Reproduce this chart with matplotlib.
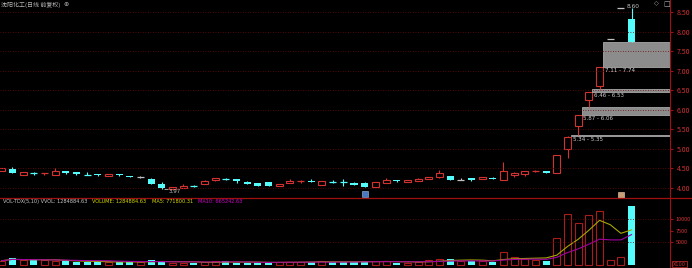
import numpy as np
import pandas as pd
import matplotlib
matplotlib.use('Agg')
import matplotlib.pyplot as plt
from matplotlib.lines import Line2D

plt.rcParams['font.family'] = ['Noto Sans CJK SC', 'DejaVu Sans']

# dados diarios (60 pregoes)
opens = [4.44, 4.48, 4.34, 4.37, 4.38, 4.34, 4.43, 4.40, 4.34, 4.35,
         4.31, 4.35, 4.30, 4.28, 4.23, 4.11, 3.98, 4.00, 4.05, 4.09,
         4.21, 4.22, 4.22, 4.15, 4.12, 4.14, 4.04, 4.12, 4.18, 4.18,
         4.07, 4.16, 4.15, 4.13, 4.12, 4.03, 4.13, 4.21, 4.16, 4.18,
         4.23, 4.27, 4.30, 4.21, 4.25, 4.22, 4.26, 4.21, 4.33, 4.36,
         4.43, 4.42, 4.39, 5.00, 5.59, 6.25, 6.62, 7.82, 8.60, 8.32]
highs = [4.52, 4.53, 4.41, 4.40, 4.38, 4.50, 4.44, 4.41, 4.40, 4.36,
         4.35, 4.36, 4.31, 4.30, 4.24, 4.14, 4.03, 4.10, 4.07, 4.19,
         4.24, 4.25, 4.22, 4.17, 4.13, 4.14, 4.11, 4.22, 4.20, 4.23,
         4.17, 4.20, 4.22, 4.14, 4.15, 4.14, 4.24, 4.21, 4.20, 4.25,
         4.29, 4.46, 4.31, 4.26, 4.25, 4.28, 4.27, 4.65, 4.40, 4.42,
         4.45, 4.42, 4.83, 5.34, 5.87, 6.46, 7.11, 7.82, 8.60, 8.60]
lows = [4.43, 4.38, 4.33, 4.33, 4.32, 4.33, 4.35, 4.33, 4.32, 4.30,
        4.31, 4.30, 4.27, 4.26, 4.09, 3.97, 3.97, 3.99, 4.03, 4.09,
        4.17, 4.19, 4.13, 4.10, 4.06, 4.05, 4.04, 4.12, 4.12, 4.15,
        4.07, 4.12, 4.05, 4.08, 4.03, 4.03, 4.12, 4.14, 4.16, 4.18,
        4.23, 4.25, 4.21, 4.19, 4.18, 4.22, 4.23, 4.21, 4.29, 4.31,
        4.41, 4.39, 4.39, 4.77, 5.35, 6.06, 6.53, 7.82, 8.60, 7.74]
closes = [4.51, 4.39, 4.40, 4.37, 4.38, 4.43, 4.39, 4.35, 4.34, 4.32,
          4.35, 4.32, 4.28, 4.28, 4.10, 4.00, 4.01, 4.06, 4.05, 4.17,
          4.24, 4.22, 4.17, 4.10, 4.06, 4.05, 4.11, 4.17, 4.18, 4.15,
          4.17, 4.16, 4.15, 4.08, 4.03, 4.14, 4.19, 4.17, 4.20, 4.23,
          4.28, 4.37, 4.21, 4.21, 4.20, 4.27, 4.23, 4.42, 4.38, 4.42,
          4.43, 4.39, 4.83, 5.31, 5.87, 6.46, 7.11, 7.82, 8.60, 7.75]
# volume em lotes (x100)
volumes = [930, 1520, 1090, 1090, 1020, 950, 870, 580, 650, 800,
           650, 650, 650, 580, 1090, 870, 510, 510, 510, 580,
           800, 800, 510, 510, 510, 510, 720, 650, 600, 700,
           900, 600, 700, 650, 800, 900, 800, 500, 500, 700,
           1020, 1370, 1370, 800, 940, 800, 650, 2760, 1670, 1240,
           1090, 940, 5800, 11090, 9060, 10870, 11740, 1090, 1670, 12850]

# gaps nao preenchidos: candle antes do gap, minimo e maximo do gap
gap_start = [53, 54, 55, 56]
gap_low = [5.34, 5.87, 6.46, 7.11]
gap_high = [5.35, 6.06, 6.53, 7.74]

price_ticks = [4.00, 4.50, 5.00, 5.50, 6.00, 6.50, 7.00, 7.50, 8.00, 8.50]
vol_ticks = [5000, 7500, 10000]
vol_grid = [5000, 10000]

# textos do cabecalho do volume
header_vol = [('VOL-TDX(5,10) VVOL: 1284884.63', '#c8c8c8'),
              ('VOLUME: 1284884.63', '#d8d800'),
              ('MA5: 771800.31', '#d8d800'),
              ('MA10: 665242.63', '#d000d0')]

RED = '#d23232'
RED_AX = '#a01010'
CYAN = '#54fcfc'
GRAY = '#c0c0c0'
W = 0.66

fig = plt.figure(figsize=(6.92, 2.68), dpi=100, facecolor='black')
ax = fig.add_axes([0, 70/268, 670/692, 198/268], facecolor='black')
axv = fig.add_axes([0, 0, 670/692, 70/268], facecolor='black')

x = np.arange(len(closes))
o = np.array(opens); h = np.array(highs); l = np.array(lows); c = np.array(closes)
prev = np.r_[c[0], c[:-1]]

# Candles
for i in x:
    if h[i] == l[i]:
        ax.hlines(c[i], i - W/2, i + W/2, color=GRAY, lw=0.9)
        continue
    if c[i] > o[i]:
        top, bot = c[i], o[i]
        ax.bar(i, top - bot, W, bottom=bot, facecolor='black', edgecolor=RED, lw=0.8)
        ax.vlines(i, top, h[i], color=RED, lw=0.8)
        ax.vlines(i, l[i], bot, color=RED, lw=0.8)
    elif c[i] < o[i]:
        ax.bar(i, o[i] - c[i], W, bottom=c[i], color=CYAN, lw=0)
        ax.vlines(i, l[i], h[i], color=CYAN, lw=0.8)
    else:
        col = RED if c[i] > prev[i] else (CYAN if c[i] < prev[i] else GRAY)
        ax.hlines(c[i], i - W/2, i + W/2, color=col, lw=0.9)
        ax.vlines(i, l[i], h[i], color=col, lw=0.8)

# gaps
for s, lo, hi in zip(gap_start, gap_low, gap_high):
    hgt = max(hi - lo, 0.012)
    ax.bar(s + W/2, hgt, 62.6 - (s + W/2), bottom=lo, align='edge',
           facecolor='#8c8c8c', edgecolor='#a8a8a8', lw=0.6)
    ax.text(s + W/2 + 0.15, lo - 0.04, f'{lo:.2f} - {hi:.2f}', color='#d0d0d0',
            fontsize=4, va='top', ha='left', family='DejaVu Sans')

# maxima / minima
imax = int(np.argmax(h)); imin = int(np.argmin(l))
ax.text(imax + 0.55, h[imax] + 0.04, f'{h[imax]:.2f}', color=GRAY, fontsize=4.2,
        va='center', ha='left', family='DejaVu Sans')
ax.hlines(l[imin], imin + 0.2, imin + 0.6, color=GRAY, lw=0.6)
ax.text(imin + 0.65, l[imin], f'{l[imin]:.2f}', color=GRAY, fontsize=4,
        va='top', ha='left', family='DejaVu Sans')

# marcadores de eventos
ax.plot([34], [3.83], marker='s', ms=4, color='#4a78c0', mec='#a0c0f0', mew=0.4)
ax.plot([58], [3.81], marker='s', ms=4, color='#c8a078', mec='#f0d0b0', mew=0.4)

ax.set_xlim(-0.16, 62.6)
ax.set_ylim(3.74, 8.815)
ax.set_yticks(price_ticks)
ax.set_yticklabels([f'{t:.2f}' for t in price_ticks])
ax.set_xticks([])
ax.yaxis.tick_right()
ax.tick_params(axis='y', colors=RED_AX, labelcolor=RED, labelsize=5, length=2, pad=3)
ax.grid(axis='y', color='#6a0a0a', ls=(0, (1, 2)), lw=0.6)
for sp in ['top', 'left', 'bottom']:
    ax.spines[sp].set_visible(False)
ax.spines['right'].set_color(RED_AX)

# Volume
v = np.array(volumes)
up = (c > o) | ((c == o) & (c >= prev))
axv.bar(x[up], v[up], W, facecolor='black', edgecolor='#a81c1c', lw=0.8)
axv.bar(x[~up], v[~up], W, color=CYAN, lw=0)
ma5 = pd.Series(volumes).rolling(5, min_periods=1).mean()
ma10 = pd.Series(volumes).rolling(10, min_periods=1).mean()
axv.plot(x, ma5, color='#a8a800', lw=0.8)
axv.plot(x, ma10, color='#a000a0', lw=0.8)
for g in vol_grid:
    axv.axhline(g, color='#6a0a0a', ls=(0, (1, 2)), lw=0.6)
axv.set_xlim(-0.16, 62.6)
axv.set_ylim(-650, 14570)
axv.set_yticks(vol_ticks)
axv.set_yticklabels([str(t) for t in vol_ticks])
axv.set_xticks([])
axv.yaxis.tick_right()
axv.tick_params(axis='y', colors=RED_AX, labelcolor=RED, labelsize=4, length=2, pad=2)
for sp in ['top', 'left', 'bottom']:
    axv.spines[sp].set_visible(False)
axv.spines['right'].set_color(RED_AX)

# linha separadora
fig.add_artist(Line2D([0, 1], [70/268, 70/268], transform=fig.transFigure, color=RED_AX, lw=0.9))

def px(xp, yp):
    return xp / 692, 1 - yp / 268

renderer = fig.canvas.get_renderer()

# titulo + icone
t = fig.text(*px(1, 5), '沈阳化工(日线 前复权)', color='#b4b4b4', fontsize=4.3, va='center')
bb = t.get_window_extent(renderer)
fig.text(*px(bb.x1 + 3, 5), '⊕', color='#b4b4b4', fontsize=4.5, va='center', family='DejaVu Sans')
fig.text(*px(654, 4), '◇', color='#b4b4b4', fontsize=4.5, va='center', family='DejaVu Sans')
fig.text(*px(663, 4), '□', color='#b4b4b4', fontsize=5, va='center', family='DejaVu Sans')

# cabecalho do volume, um texto depois do outro
xpos = 3
for txt, col in header_vol:
    t = fig.text(*px(xpos, 201.5), txt, color=col, fontsize=3.6, va='center', family='DejaVu Sans')
    xpos = t.get_window_extent(renderer).x1 + 5

fig.text(*px(673, 264), 'X100', color=RED, fontsize=3.6, va='center', family='DejaVu Sans',
         bbox=dict(facecolor='black', edgecolor=RED, lw=0.5, pad=0.6))

plt.savefig('out.png', dpi=100, facecolor='black')
